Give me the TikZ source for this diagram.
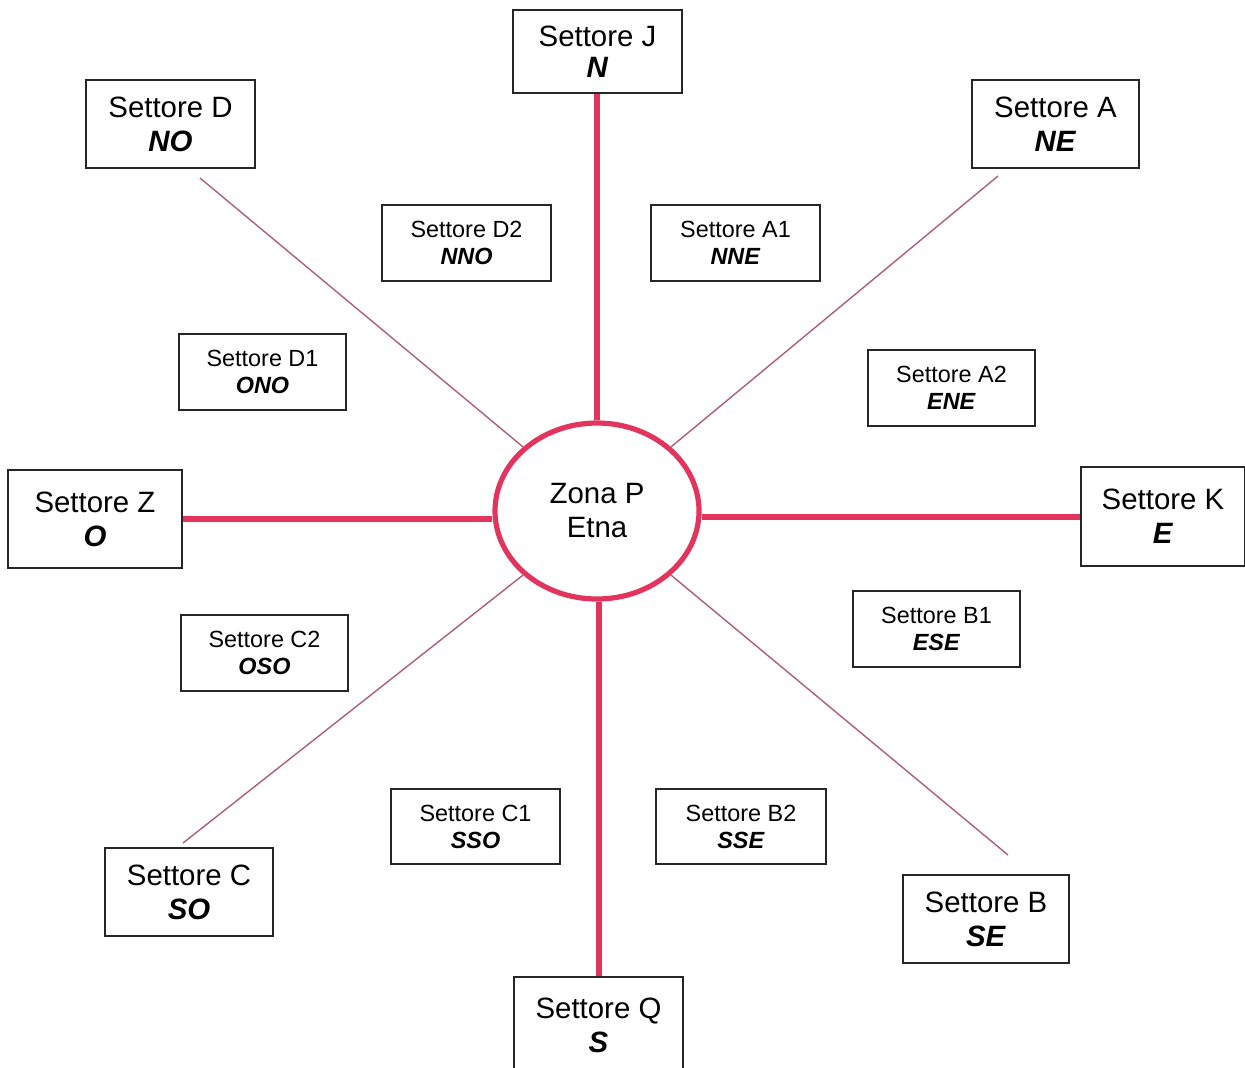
\documentclass[tikz,border=0pt]{standalone}
\usepackage{fontspec}
\setmainfont{Liberation Sans}
\usetikzlibrary{shapes.geometric}
\definecolor{etnared}{RGB}{226,52,92}
\definecolor{raythin}{RGB}{175,95,115}
\begin{document}
\begin{tikzpicture}[x=0.5pt,y=-0.5pt,
  bigsector/.style={draw=black!85,line width=0.8pt,rectangle,align=center,
    font=\fontsize{14.7}{17}\selectfont,inner sep=0pt},
  smallsector/.style={draw=black!85,line width=0.8pt,rectangle,align=center,
    font=\fontsize{11.7}{13.5}\selectfont,inner sep=0pt},
  mainray/.style={draw=etnared,line width=3pt},
  thinray/.style={draw=raythin,line width=0.7pt}]
\useasboundingbox (0,0) rectangle (1245,1067);

% central zone
\node[ellipse,draw=etnared,line width=2.6pt,minimum width=102pt,minimum height=88pt,
  align=center,font=\fontsize{14.7}{17}\selectfont,inner sep=0pt] (P) at (597,511)
  {Zona P\\Etna};

% main compass sectors
\node[bigsector,minimum width=84.5pt,minimum height=41.5pt] (J) at (597.5,51.5)
  {\raisebox{-1.5pt}{Settore J}\\\textbf{\textit{N}}};
\node[bigsector,minimum width=84.5pt,minimum height=44pt] (D) at (170.5,124)
  {Settore D\\\textbf{\textit{NO}}};
\node[bigsector,minimum width=83.5pt,minimum height=44pt] (A) at (1055.5,124)
  {Settore A\\\textbf{\textit{NE}}};
\node[bigsector,minimum width=87pt,minimum height=49pt] (Z) at (95,519)
  {Settore Z\\\textbf{\textit{O}}};
\node[bigsector,minimum width=82pt,minimum height=49.5pt] (K) at (1163,516.5)
  {Settore K\\\textbf{\textit{E}}};
\node[bigsector,minimum width=84pt,minimum height=44pt] (C) at (189,892)
  {Settore C\\\textbf{\textit{SO}}};
\node[bigsector,minimum width=83pt,minimum height=44pt] (B) at (986,919)
  {Settore B\\\textbf{\textit{SE}}};
\node[bigsector,minimum width=84.5pt,minimum height=48pt] (Q) at (598.5,1025)
  {Settore Q\\\textbf{\textit{S}}};

% intermediate sectors
\node[smallsector,minimum width=84.5pt,minimum height=38pt] (D2) at (466.5,243)
  {Settore D2\\\textbf{\textit{NNO}}};
\node[smallsector,minimum width=84.5pt,minimum height=38pt] (A1) at (735.5,243)
  {Settore A1\\\textbf{\textit{NNE}}};
\node[smallsector,minimum width=83.5pt,minimum height=38pt] (D1) at (262.5,372)
  {Settore D1\\\textbf{\textit{ONO}}};
\node[smallsector,minimum width=83.5pt,minimum height=38pt] (A2) at (951.5,388)
  {Settore A2\\\textbf{\textit{ENE}}};
\node[smallsector,minimum width=83.5pt,minimum height=38pt] (C2) at (264.5,653)
  {Settore C2\\\textbf{\textit{OSO}}};
\node[smallsector,minimum width=83.5pt,minimum height=38pt] (B1) at (936.5,629)
  {Settore B1\\\textbf{\textit{ESE}}};
\node[smallsector,minimum width=84.5pt,minimum height=37.5pt] (C1) at (475.5,826.5)
  {Settore C1\\\textbf{\textit{SSO}}};
\node[smallsector,minimum width=85pt,minimum height=37.5pt] (B2) at (741,826.5)
  {Settore B2\\\textbf{\textit{SSE}}};

% thick rays to the cardinal sectors
\draw[mainray] (P.north) -- (P.north |- J.south);
\draw[mainray] (P.south -| Q.north) -- (Q.north);
\draw[mainray] (Z.east) -- (Z.east -| P.west);
\draw[mainray] (K.west) -- (K.west -| P.east);

% thin diagonal rays
\coordinate (nwEnd) at (200,178);
\coordinate (neEnd) at (998,176);
\coordinate (swEnd) at (183,843);
\coordinate (seEnd) at (1008,855);
\draw[thinray] (P.north west) -- (nwEnd);
\draw[thinray] (P.north east) -- (neEnd);
\draw[thinray] (P.south west) -- (swEnd);
\draw[thinray] (P.south east) -- (seEnd);
\end{tikzpicture}
\end{document}
